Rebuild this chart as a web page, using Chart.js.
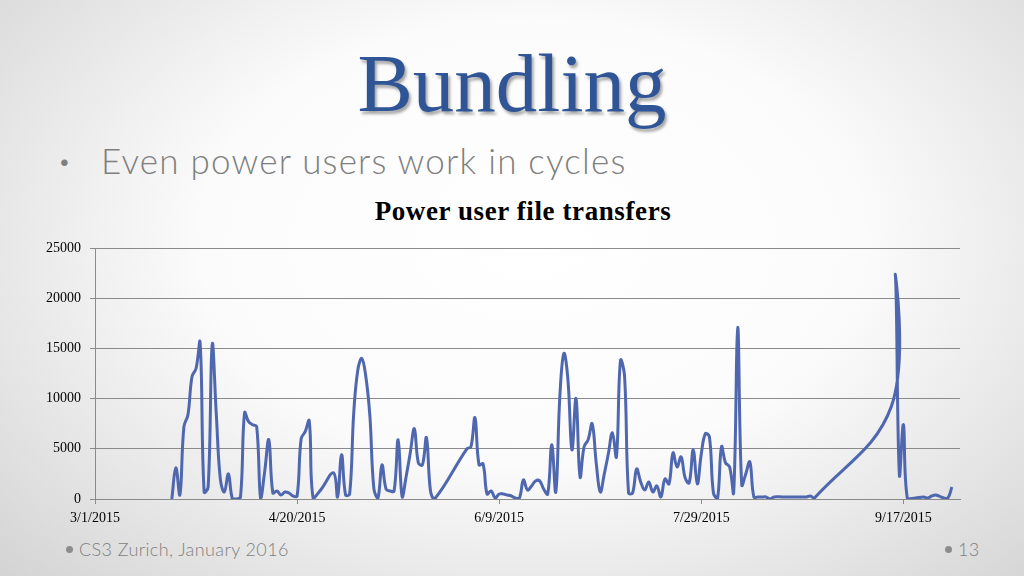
<!DOCTYPE html>
<html>
<head>
<meta charset="utf-8">
<script src="https://cdn.jsdelivr.net/npm/chart.js@4.4.1/dist/chart.umd.min.js"></script>
<style>
  html, body { margin: 0; padding: 0; }
  body {
    width: 1024px; height: 576px; overflow: hidden; position: relative;
    background: radial-gradient(ellipse 72% 85% at 52% 42%, #ffffff 0%, #fbfbfb 45%, #d3d3d3 100%);
  }
  #title {
    position: absolute; left: 0; top: 42px; width: 1024px; text-align: center;
    font-family: 'Liberation Serif', serif; font-size: 83px; line-height: 1;
    color: #2f5597; text-shadow: 2px 3px 3px rgba(0,0,0,0.35);
  }
  #bullet {
    position: absolute; left: 58px; top: 143px;
    font-family: Lato, sans-serif; font-weight: 300; font-size: 35px; line-height: 1;
    letter-spacing: 1.2px; color: #7f7f7f; white-space: nowrap;
  }
  #bullet .dot { display: inline-block; width: 43px; font-size: 22px; vertical-align: 5px; letter-spacing: 0; }
  #charttitle {
    position: absolute; left: 0; top: 198px; width: 1046px; text-align: center;
    font-family: 'Liberation Serif', serif; font-weight: bold; font-size: 27px; line-height: 1;
    letter-spacing: 0.6px; color: #000;
  }
  #wrap { position: absolute; left: 0; top: 230px; width: 1024px; height: 300px; }
  .foot {
    position: absolute; top: 540px; font-family: Lato, sans-serif; font-weight: 300;
    font-size: 18px; line-height: 1; letter-spacing: 0.4px; color: #7f7f7f; white-space: nowrap;
  }
  .foot .d { display: inline-block; width: 7px; height: 7px; border-radius: 50%; background: #8c8c8c; margin-right: 6px; vertical-align: 3px; }
</style>
</head>
<body>
<div id="title">Bundling</div>
<div id="bullet"><span class="dot">•</span>Even power users work in cycles</div>
<div id="charttitle">Power user file transfers</div>
<div id="wrap"><canvas id="chart"></canvas></div>
<div class="foot" style="left:66px"><span class="d"></span>CS3 Zurich, January 2016</div>
<div class="foot" style="left:945px"><span class="d"></span>13</div>
<script>
// days counted from 3/1/2015
const startDate = new Date(2015, 2, 1);
const dayOffsets = [
  19, 20, 21, 22, 23, 24, 25, 26, 27, 28, 29, 30, 31, 32, 33, 34, 35, 36, 37, 38,
  39, 40, 41, 42, 43, 44, 45, 46, 47, 48, 49, 50, 51, 52, 53, 54, 56, 59, 60, 61,
  62, 63, 64, 65, 66, 67, 68, 69, 70, 71, 72, 73, 74, 75, 76, 77, 78, 79, 80, 81,
  82, 83, 84, 92, 93, 94, 95, 96, 97, 98, 99, 100, 101, 102, 103, 104, 105, 106, 107, 108,
  109, 110, 111, 112, 113, 114, 115, 116, 117, 118, 119, 120, 121, 122, 123, 124, 125, 126, 127, 128,
  129, 130, 131, 132, 133, 134, 135, 136, 137, 138, 139, 140, 141, 142, 143, 144, 145, 146, 147, 148,
  149, 150, 151, 152, 153, 154, 155, 156, 157, 158, 159, 160, 161, 162, 163, 164, 165, 166, 167, 168,
  170, 172, 174, 176, 177, 178, 197, 198, 199, 200, 201, 203, 205, 206, 207, 208, 210, 211, 212
];
const transfers = [
  0, 3100, 400, 7200, 8400, 12200, 13000, 15600, 700, 1200, 15400, 8500, 2000, 700, 2500, 0, 0, 200, 8600, 7700,
  7400, 7200, 0, 2800, 5900, 600, 800, 400, 700, 600, 300, 300, 6000, 6700, 7800, 0, 1000, 2600, 200, 4400,
  400, 500, 8500, 12800, 14000, 12200, 8300, 1000, 100, 3400, 1000, 800, 800, 5900, 200, 2300, 4600, 7000, 3600, 3400,
  6100, 800, 0, 5000, 5200, 8100, 3400, 3500, 500, 800, 100, 500, 500, 400, 300, 100, 100, 1900, 900, 1300,
  1800, 1800, 1000, 500, 5400, 700, 10200, 14500, 11900, 4900, 10000, 2200, 5200, 5900, 7500, 3600, 700, 2500, 4500, 6600,
  4200, 13800, 12300, 600, 600, 3000, 1700, 900, 1700, 700, 1300, 200, 2000, 1500, 4600, 3200, 4200, 2100, 1600, 4900,
  1500, 4500, 6500, 6200, 600, 0, 5200, 3600, 3200, 600, 17100, 1400, 2500, 3700, 200, 200, 200, 200, 0, 200,
  200, 200, 200, 200, 300, 100, 9200, 22300, 2400, 7400, 0, 100, 200, 100, 300, 400, 100, 100, 1200
];
const xTickDays = [0, 50, 100, 150, 200];
const yTicks = [0, 5000, 10000, 15000, 20000, 25000];

function dateLabel(v) {
  const d = new Date(startDate);
  d.setDate(d.getDate() + v);
  return (d.getMonth() + 1) + '/' + d.getDate() + '/' + d.getFullYear();
}

const points = dayOffsets.map((d, i) => ({ x: d, y: transfers[i] }));
const gridGray = '#8a8a8a';

new Chart(document.getElementById('chart'), {
  type: 'line',
  data: {
    datasets: [{
      label: 'Transfers',
      data: points,
      borderColor: '#4f67ae',
      borderWidth: 3,
      pointRadius: 0,
      tension: 0.4,
      fill: false
    }]
  },
  options: {
    responsive: true,
    maintainAspectRatio: false,
    animation: false,
    layout: { padding: { top: 18, right: 64, left: 0, bottom: 0 } },
    plugins: { legend: { display: false }, tooltip: { enabled: false } },
    scales: {
      x: {
        type: 'linear',
        min: 0,
        max: 214,
        afterFit: s => { s.height = 31; },
        afterBuildTicks: s => { s.ticks = xTickDays.map(v => ({ value: v })); },
        grid: { drawOnChartArea: false, drawTicks: true, tickLength: 5, color: gridGray },
        border: { color: gridGray, width: 1 },
        ticks: {
          callback: v => dateLabel(v),
          maxRotation: 0, autoSkip: false, padding: 6,
          color: '#000', font: { family: 'Liberation Serif', size: 14 }
        }
      },
      y: {
        min: 0,
        max: 25000,
        afterFit: s => { s.width = 95; },
        afterBuildTicks: s => { s.ticks = yTicks.map(v => ({ value: v })); },
        grid: { color: gridGray, tickLength: 5, drawTicks: true },
        border: { color: gridGray, width: 1 },
        ticks: {
          callback: v => String(v),
          padding: 9,
          color: '#000', font: { family: 'Liberation Serif', size: 14 }
        }
      }
    }
  }
});
</script>
</body>
</html>
